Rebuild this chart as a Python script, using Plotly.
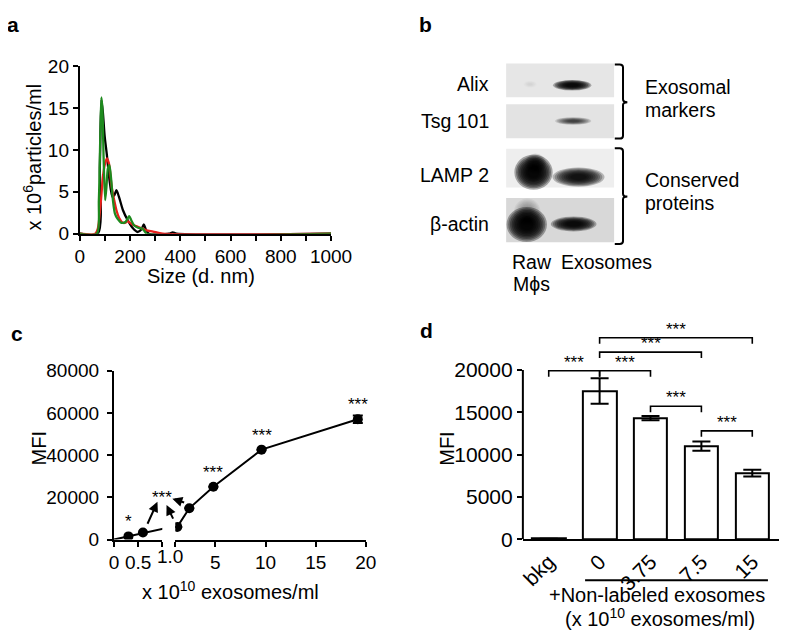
import plotly.graph_objects as go

# The page body adds an 8 px margin around the figure; place everything in page pixels.
OFF = 8
W, H = 800, 638
FONT = "Liberation Sans, Arial, Helvetica, sans-serif"


def fx(p):
    return min(1.0, max(0.0, (p - OFF) / W))


def fy(p):
    return min(1.0, max(0.0, 1 - (p - OFF) / H))


# ---------------- Panel a: size distribution ----------------
black_size = [0, 72, 80, 86, 92, 99, 108, 118, 130, 138, 146, 156, 172, 191, 210, 230, 245, 255, 263, 275, 355, 370, 385, 1000]
black_conc = [0, 0, 8.0, 16.0, 14.5, 11.7, 9.4, 6.5, 4.4, 4.6, 5.2, 4.4, 2.8, 1.6, 0.7, 0.2, 0.5, 1.1, 0.5, 0, 0, 0.15, 0, 0]
red_size = [0, 62, 72, 82, 93, 100, 108, 116, 127, 137, 146, 158, 171, 182, 190, 200, 209, 225, 241, 265, 292, 330, 1000]
red_conc = [0, 0, 0.6, 3.2, 7.0, 8.3, 9.0, 8.4, 5.6, 4.0, 2.8, 1.8, 1.3, 1.3, 1.5, 1.3, 1.1, 0.9, 0.7, 0.4, 0.25, 0, 0]
green_size = [0, 68, 76, 82, 86, 90, 95, 101, 106, 112, 118, 125, 132, 140, 150, 166, 182, 190, 197, 205, 216, 232, 249, 258, 266, 1000]
green_conc = [0, 0, 4.0, 12.0, 16.3, 15.0, 9.0, 4.0, 5.5, 7.8, 8.2, 6.5, 4.0, 2.4, 1.8, 1.3, 1.4, 1.8, 2.1, 1.6, 1.0, 0.7, 0.6, 0.3, 0, 0]
a_xticks = [0, 200, 400, 600, 800, 1000]
a_yticks = [0, 5, 10, 15, 20]

# ---------------- Panel b: western blot ----------------
blot_proteins = ["Alix", "Tsg 101", "LAMP 2", "β-actin"]
blot_lanes = ["Raw", "Exosomes"]
band_raw = [0.06, 0.0, 0.97, 0.97]
band_exo = [0.95, 0.7, 0.92, 0.95]

# ---------------- Panel c: dose response ----------------
c_conc = [0, 0.3, 0.6, 1.2, 2.4, 4.8, 9.6, 19.2]
c_mfi = [0, 1500, 3300, 6000, 14800, 25000, 42600, 57000]
c_err = [0, 0, 0, 0, 0, 0, 0, 1800]
c_sig = ["", "*", "", "", "", "***", "***", "***"]
c_yticks = [0, 20000, 40000, 60000, 80000]

# ---------------- Panel d: competition ----------------
d_labels = ["bkg", "0", "3.75", "7.5", "15"]
d_mfi = [70, 17500, 14300, 11000, 7800]
d_err = [0, 1500, 250, 550, 400]
sig_pairs = [(0, 1), (1, 2), (1, 3), (1, 4), (2, 3), (3, 4)]
sig_levels = [19900, 19900, 22100, 23800, 15700, 12800]
sig_text = ["***", "***", "***", "***", "***", "***"]
d_yticks = [0, 5000, 10000, 15000, 20000]

fig = go.Figure()

# ---- panel a traces
for xs, ys, col in [(black_size, black_conc, "#000000"),
                    (red_size, red_conc, "#e8201c"),
                    (green_size, green_conc, "#1e8a1e")]:
    fig.add_trace(go.Scatter(x=xs, y=ys, mode="lines", xaxis="x", yaxis="y",
                             line=dict(color=col, width=2.3, shape="spline", smoothing=0.7),
                             showlegend=False, hoverinfo="skip"))

# ---- panel c traces (broken x axis)
seg1 = [i for i, c in enumerate(c_conc) if c <= 1.2]
seg2 = [i for i, c in enumerate(c_conc) if c >= 1.2]
fig.add_trace(go.Scatter(x=[c_conc[i] for i in seg1], y=[c_mfi[i] for i in seg1],
                         mode="lines", xaxis="x2", yaxis="y2",
                         line=dict(color="black", width=2),
                         showlegend=False, hoverinfo="skip"))
pts1 = [i for i in seg1 if 0 < c_conc[i] < 1]
fig.add_trace(go.Scatter(x=[c_conc[i] for i in pts1], y=[c_mfi[i] for i in pts1],
                         mode="markers", xaxis="x2", yaxis="y2",
                         marker=dict(color="black", size=10, line=dict(width=0)),
                         showlegend=False, hoverinfo="skip"))
fig.add_trace(go.Scatter(x=[c_conc[i] for i in seg2], y=[c_mfi[i] for i in seg2],
                         mode="lines+markers", xaxis="x3", yaxis="y2",
                         line=dict(color="black", width=2),
                         marker=dict(color="black", size=10, line=dict(width=0)),
                         error_y=dict(type="data", array=[c_err[i] for i in seg2], color="black",
                                      thickness=2, width=5),
                         showlegend=False, hoverinfo="skip"))

# ---- panel d bars
fig.add_trace(go.Bar(x=list(range(len(d_labels))), y=d_mfi, xaxis="x4", yaxis="y4",
                     width=0.66,
                     marker=dict(color="white", line=dict(color="black", width=2)),
                     error_y=dict(type="data", array=d_err, color="black", thickness=2, width=9),
                     showlegend=False, hoverinfo="skip"))
for (i, j), lev in zip(sig_pairs, sig_levels):
    drop = 700
    fig.add_trace(go.Scatter(x=[i, i, j, j], y=[lev - drop, lev, lev, lev - drop],
                             mode="lines", xaxis="x4", yaxis="y4",
                             line=dict(color="black", width=1.6),
                             showlegend=False, hoverinfo="skip"))

axis_common = dict(showline=True, linecolor="black", linewidth=2, ticks="outside",
                   ticklen=5, tickwidth=2, tickcolor="black", showgrid=False,
                   zeroline=False, fixedrange=True)

d_unit = 52.6  # px per category in panel d
d_right = -0.508 + (800 - 535) / d_unit

layout = dict(
    width=W, height=H, autosize=False,
    margin=dict(l=0, r=0, t=0, b=0, pad=0),
    paper_bgcolor="white", plot_bgcolor="rgba(0,0,0,0)",
    font=dict(family=FONT, color="black"),
    bargap=0,
    xaxis=dict(axis_common, domain=[fx(77), fx(336.7)], range=[0, 1000], anchor="y",
               tickvals=a_xticks, ticktext=[str(v) for v in a_xticks], tickfont=dict(size=19),
               minor=dict(dtick=100, ticks="outside", ticklen=5, tickwidth=2, tickcolor="black")),
    yaxis=dict(axis_common, domain=[fy(231), fy(58)], range=[0, 20], anchor="x",
               tickvals=a_yticks, ticktext=[str(v) for v in a_yticks], tickfont=dict(size=19)),
    xaxis2=dict(axis_common, domain=[fx(112.3), fx(162.3)], range=[0, 1], anchor="y2",
                tickvals=[0, 0.5, 1], ticktext=["0", "0.5", ""], tickfont=dict(size=19)),
    xaxis3=dict(axis_common, domain=[fx(175.7), fx(372.7)], range=[1, 20], anchor="y2",
                tickvals=[1, 5, 10, 15, 20], ticktext=["", "5", "10", "15", "20"],
                tickfont=dict(size=19)),
    yaxis2=dict(axis_common, domain=[fy(547.3), fy(372.7)], range=[0, 80000], anchor="x2",
                tickvals=c_yticks, ticktext=[str(v) for v in c_yticks], tickfont=dict(size=19),
                ticklabelstandoff=4),
    xaxis4=dict(axis_common, domain=[fx(535), fx(800)], range=[-0.508, d_right], anchor="y4",
                tickvals=list(range(len(d_labels))), ticktext=d_labels, ticks="",
                tickangle=-45, tickfont=dict(size=21)),
    yaxis4=dict(axis_common, showline=False, domain=[fy(547), fy(323.7)], range=[0, 25500],
                anchor="x4", tickvals=d_yticks, ticktext=[str(v) for v in d_yticks],
                tickfont=dict(size=21)),
)

shapes = []
annotations = []


def note(x, y, text, size=20, xanchor="center", yanchor="middle", **kw):
    d = dict(x=x, y=y, text=text, showarrow=False, xanchor=xanchor, yanchor=yanchor,
             font=dict(size=size))
    d.setdefault("xref", "paper")
    d.setdefault("yref", "paper")
    d.update(kw)
    annotations.append(d)


# y axis line for panel d (only up to 20000)
shapes.append(dict(type="line", xref="paper", yref="y4", x0=fx(535), x1=fx(535), y0=0, y1=20000,
                   line=dict(color="black", width=2)))

# significance text panel d
for (i, j), lev, t in zip(sig_pairs, sig_levels, sig_text):
    note((i + j) / 2, lev, t, size=17, yanchor="bottom", xref="x4", yref="y4", yshift=-3)

# underline and labels panel d
shapes.append(dict(type="line", xref="paper", yref="paper", x0=fx(599.3), x1=fx(788.3),
                   y0=fy(589.3), y1=fy(589.3), line=dict(color="black", width=2)))
note(fx(674), fy(605), "+Non-labeled exosomes")
note(fx(677), fy(628), "(x 10<sup>10</sup> exosomes/ml)")
note(fx(457), fy(453), "MFI", textangle=-90)

# panel c annotations
for c, m, t in zip(c_conc, c_mfi, c_sig):
    if not t:
        continue
    xr = "x2" if c < 1 else "x3"
    note(c, m, t, size=17, yanchor="bottom", xref=xr, yref="y2", yshift=3)
note(fx(162), fy(501), "***", size=17, yshift=-3)
for (hx, hy), (tx, ty) in [((157.3, 508.3), (146.7, 531.7)),
                           ((166.7, 511.7), (174, 526.7)),
                           ((172.7, 505), (186, 509.3))]:
    annotations.append(dict(x=fx(hx), y=fy(hy), xref="paper", yref="paper", text="",
                            showarrow=True, arrowhead=2, arrowsize=1, arrowwidth=2,
                            arrowcolor="black", ax=tx - hx, ay=ty - hy, standoff=0))
note(fx(170), fy(565), "1.0", size=19)
note(fx(35), fy(453), "MFI", textangle=-90)
note(fx(233), fy(600), "x 10<sup>10</sup> exosomes/ml")

# panel a titles
note(fx(202), fy(275), "Size (d. nm)")
note(fx(28), fy(152), "x 10<sup>6</sup>particles/ml", textangle=-90)

# panel letters
for letter, (lx, ly) in zip(["a", "b", "c", "d"], [(8, 15), (434, 15), (12, 334), (435, 331)]):
    note(fx(lx), fy(ly), "<b>%s</b>" % letter, size=21)

# ---------------- Panel b drawing ----------------
strip_x0, strip_x1 = 517.7, 629.3
strips = [(55, 90, "#e6e6e6"), (97.3, 132.3, "#e3e3e3"), (143.3, 183.3, "#eeeeee"), (194, 240, "#d8d8d8")]
label_y = [76, 114.3, 170, 220.7]
raw_boxes = [(536, 549, 73, 80), None, (528, 564, 151, 184), (520, 558, 205, 238)]
exo_boxes = [(568, 604, 72.5, 82.5), (570, 604, 111, 118), (568, 617, 163.5, 181.5), (566, 609, 214, 228)]

for (y0, y1, col) in strips:
    shapes.append(dict(type="rect", xref="paper", yref="paper", x0=fx(strip_x0), x1=fx(strip_x1),
                       y0=fy(y1), y1=fy(y0), fillcolor=col, line=dict(width=0), layer="below"))


def band(box, inten, n=9):
    if box is None or inten <= 0:
        return
    x0, x1, y0, y1 = box
    cx, cy = (x0 + x1) / 2, (y0 + y1) / 2
    hw, hh = (x1 - x0) / 2, (y1 - y0) / 2
    a = 1 - (1 - min(inten, 0.97)) ** (1.0 / n)
    for k in range(n):
        s = 1.1 - 0.75 * k / (n - 1)
        shapes.append(dict(type="circle", xref="paper", yref="paper",
                           x0=fx(cx - hw * s), x1=fx(cx + hw * s),
                           y0=fy(cy + hh * s), y1=fy(cy - hh * s),
                           fillcolor="black", opacity=a, line=dict(width=0)))


for k in range(len(blot_proteins)):
    band(raw_boxes[k], band_raw[k])
    band(exo_boxes[k], band_exo[k])
    note(fx(502), fy(label_y[k]), blot_proteins[k], size=19.5, xanchor="right")

# LAMP2 raw blob top / actin raw smear
band((538, 558, 149, 168), 0.6)
band((527, 552, 196, 222), 0.35)


def bracket(top, bottom, mid):
    path = ("M %f,%f L %f,%f Q %f,%f %f,%f L %f,%f Q %f,%f %f,%f "
            "M %f,%f L %f,%f Q %f,%f %f,%f L %f,%f Q %f,%f %f,%f") % (
        fx(630), fy(top), fx(635), fy(top), fx(638.5), fy(top), fx(638.5), fy(top + 3),
        fx(638.5), fy(mid - 3), fx(638.5), fy(mid), fx(643), fy(mid),
        fx(630), fy(bottom), fx(635), fy(bottom), fx(638.5), fy(bottom), fx(638.5), fy(bottom - 3),
        fx(638.5), fy(mid + 3), fx(638.5), fy(mid), fx(643), fy(mid))
    shapes.append(dict(type="path", xref="paper", yref="paper", path=path,
                       line=dict(color="black", width=2)))


bracket(56, 132.7, 95)
bracket(142.7, 241.7, 192.7)

for txt, (tx, ty) in [("Exosomal", (659, 79.3)), ("markers", (659, 103.3)),
                      ("Conserved", (659, 175)), ("proteins", (659, 199.3))]:
    note(fx(tx), fy(ty), txt, size=19.5, xanchor="left")
note(fx(544), fy(260), blot_lanes[0], size=19.5)
note(fx(544), fy(283), "Mϕs", size=19.5)
note(fx(621), fy(260), blot_lanes[1], size=19.5)

layout["shapes"] = shapes
layout["annotations"] = annotations
fig.update_layout(**layout)

fig.write_html("out.html", config={"displayModeBar": False})
